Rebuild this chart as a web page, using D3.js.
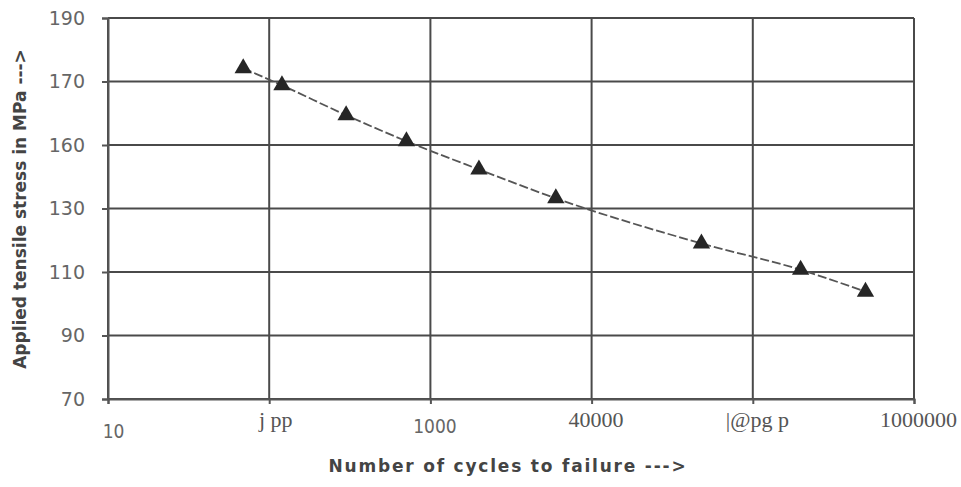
<!DOCTYPE html>
<html>
<head>
<meta charset="utf-8">
<script src="https://cdn.jsdelivr.net/npm/d3@7"></script>
<style>
  body { margin: 0; background: #fff; }
  svg { display: block; }
</style>
</head>
<body>
<svg id="chart" width="961" height="487"></svg>
<script>
// cycles to failure vs applied stress
var cycles = [69, 120, 300, 710, 2000, 6000, 48000, 198000, 500000];
var stress = [174.2, 168.8, 159.4, 151.2, 142.3, 133.2, 119, 110.7, 103.8];

var xTicks = [10, 100, 1000, 10000, 100000, 1000000];
var xTickLabels = ["10", "j pp", "1000", "40000", "|@pg p", "1000000"];
var xLabelSerif = [false, true, false, true, true, true];
var yTicks = [70, 90, 110, 130, 150, 170, 190];
var yTickLabels = ["70", "90", "110", "130", "160", "170", "190"];

var svg = d3.select("#chart"),
  margin = {top: 18, right: 47, bottom: 88, left: 108},
  width = +svg.attr("width") - margin.left - margin.right,
  height = +svg.attr("height") - margin.top - margin.bottom,
  g = svg.append("g").attr("transform", "translate(" + margin.left + "," + margin.top + ")");

var x = d3.scaleLog().domain([10, 1000000]).range([0, width]),
  y = d3.scaleLinear().domain([70, 190]).range([height, 0]);

// grid
g.selectAll(".hgrid").data(yTicks).enter().append("line")
  .attr("x1", 0).attr("x2", width)
  .attr("y1", function (d) { return y(d); }).attr("y2", function (d) { return y(d); })
  .attr("stroke", "#4a4a4a").attr("stroke-width", 2);
g.selectAll(".vgrid").data(xTicks).enter().append("line")
  .attr("y1", 0).attr("y2", height)
  .attr("x1", function (d) { return x(d); }).attr("x2", function (d) { return x(d); })
  .attr("stroke", "#4a4a4a").attr("stroke-width", 2);

// axes
var yAxis = d3.axisLeft(y).tickValues(yTicks).tickSize(6).tickPadding(17)
  .tickFormat(function (d, i) { return yTickLabels[i]; });
var gy = g.append("g").call(yAxis);
gy.select(".domain").attr("stroke", "#555").attr("stroke-width", 2);
gy.selectAll(".tick line").attr("stroke", "#555").attr("stroke-width", 2);
gy.selectAll("text").attr("fill", "#666").attr("font-family", "'DejaVu Sans', sans-serif")
  .attr("font-size", 19);

var xAxis = d3.axisBottom(x).tickValues(xTicks).tickSize(5).tickPadding(10)
  .tickFormat(function (d, i) { return xTickLabels[i]; });
var gx = g.append("g").attr("transform", "translate(0," + height + ")").call(xAxis);
gx.select(".domain").attr("stroke", "#555").attr("stroke-width", 2);
gx.selectAll(".tick line").attr("stroke", "#555").attr("stroke-width", 2);
gx.selectAll("text")
  .attr("fill", function (d, i) { return xLabelSerif[i] ? "#555" : "#666"; })
  .attr("font-family", function (d, i) { return xLabelSerif[i] ? "'Liberation Serif', 'Times New Roman', serif" : "'DejaVu Sans Condensed', 'DejaVu Sans', sans-serif"; })
  .attr("font-size", function (d, i) { return xLabelSerif[i] ? 22 : 19; })
  .attr("dx", function (d, i) { return i === 0 ? 5 : (i === 1 ? 6 : 4); })
  .attr("dy", function (d, i) { return xLabelSerif[i] ? "0.6em" : (i === 0 ? "1.25em" : "1.0em"); });

// data line
var pts = cycles.map(function (c, i) { return [c, stress[i]]; });
var line = d3.line()
  .x(function (d) { return x(d[0]); })
  .y(function (d) { return y(d[1]); })
  .curve(d3.curveMonotoneX);
g.append("path").datum(pts)
  .attr("d", line)
  .attr("fill", "none")
  .attr("stroke", "#555")
  .attr("stroke-width", 1.8)
  .attr("stroke-dasharray", "9,3");

// markers
var tri = d3.symbol().type(d3.symbolTriangle).size(130);
g.selectAll(".pt").data(pts).enter().append("path")
  .attr("d", tri)
  .attr("transform", function (d) { return "translate(" + x(d[0]) + "," + y(d[1]) + ")"; })
  .attr("fill", "#262626");

// titles
svg.append("text")
  .attr("x", 508)
  .attr("y", 472)
  .attr("text-anchor", "middle")
  .attr("font-family", "'DejaVu Sans', Verdana, sans-serif")
  .attr("font-weight", "bold")
  .attr("font-size", 17)
  .attr("letter-spacing", 1.8)
  .attr("fill", "#444")
  .text("Number of cycles to failure --->");

svg.append("text")
  .attr("transform", "translate(26,209) rotate(-90)")
  .attr("text-anchor", "middle")
  .attr("font-family", "'DejaVu Sans', sans-serif")
  .attr("font-weight", "bold")
  .attr("font-size", 17)
  .attr("fill", "#444")
  .text("Applied tensile stress in MPa --->");
</script>
</body>
</html>
